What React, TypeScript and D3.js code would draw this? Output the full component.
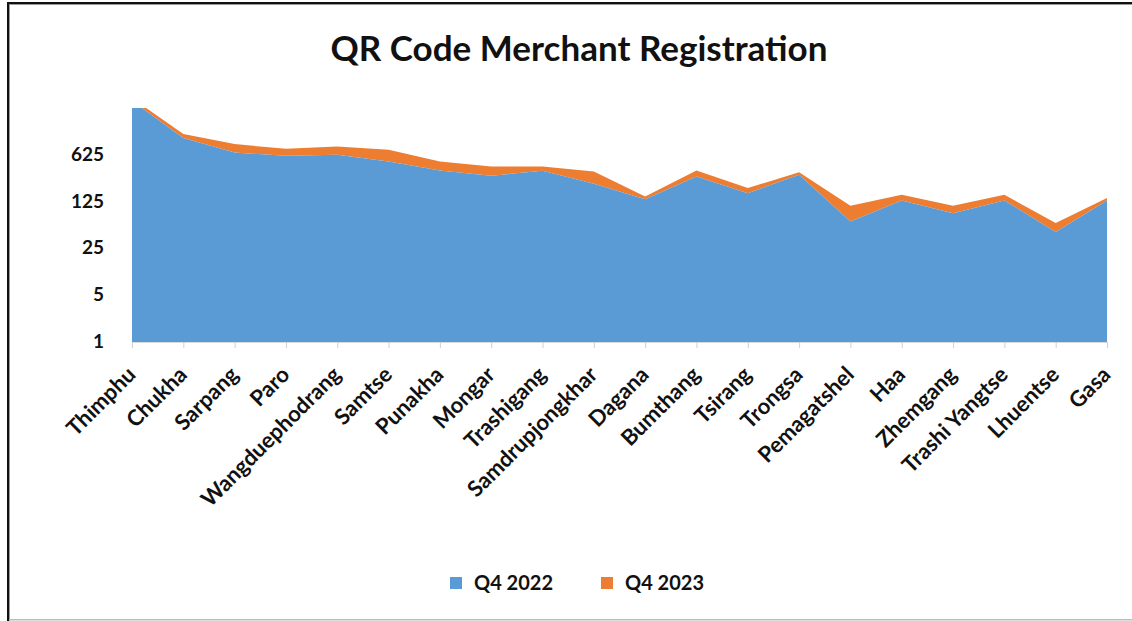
import React from "react";
import * as d3 from "d3";

const categories = [
  "Thimphu", "Chukha", "Sarpang", "Paro", "Wangduephodrang", "Samtse", "Punakha",
  "Mongar", "Trashigang", "Samdrupjongkhar", "Dagana", "Bumthang", "Tsirang",
  "Trongsa", "Pemagatshel", "Haa", "Zhemgang", "Trashi Yangtse", "Lhuentse", "Gasa",
];
const q4_2022 = [4000, 1110, 676, 604, 625, 497, 364, 304, 361, 230, 136, 296, 167, 314, 63, 130, 84, 130, 44, 130];
const q4_2023 = [400, 165, 227, 164, 208, 246, 133, 114, 57, 121, 13, 68, 32, 28, 45, 28, 24, 28, 16, 11];
const yTicks = [1, 5, 25, 125, 625];
const seriesNames = ["Q4 2022", "Q4 2023"];
const colors = ["#5B9BD5", "#ED7D31"];

const W = 1132, H = 621;
const X0 = 132, X1 = 1107, YB = 342, YT = 108;
const FONT = "Lato, 'Open Sans', sans-serif";

export default function App() {
  const x = d3.scalePoint<string>().domain(categories).range([X0, X1]);
  const y = d3.scaleLog().base(5).domain([1, 3125]).range([YB, YT]);
  const rows = categories.map((c, i) => ({ c, a: q4_2022[i], b: q4_2023[i] }));
  const stack = d3.stack<any>().keys(["a", "b"])(rows);
  const area = d3
    .area<any>()
    .x((d) => x(d.data.c) as number)
    .y0((d) => y(Math.max(1, d[0])))
    .y1((d) => y(Math.max(1, d[1])));

  return (
    <svg width={W} height={H} style={{ position: "absolute", left: 0, top: 0, background: "#fff" }}>
      <rect x={0} y={0} width={W} height={H} fill="#fff" />
      {/* frame */}
      <rect x={7} y={2} width={W - 7} height={2} fill="#111" />
      <rect x={9} y={4} width={W - 9} height={1} fill="#999" />
      <rect x={7} y={2} width={2} height={H - 2} fill="#111" />
      <rect x={9} y={4} width={1} height={H - 4} fill="#999" />
      <rect x={9} y={619} width={W - 9} height={1.5} fill="#bbb" />

      <text x={579} y={61} textAnchor="middle" fontFamily={FONT} fontWeight={700} fontSize={35} fill="#111">
        QR Code Merchant Registration
      </text>

      <defs>
        <clipPath id="plotclip">
          <rect x={X0} y={YT} width={X1 - X0} height={YB - YT} />
        </clipPath>
      </defs>
      <g clipPath="url(#plotclip)">
        {stack
          .slice()
          .reverse()
          .map((s, k) => {
            const idx = stack.length - 1 - k;
            return <path key={idx} d={area(s as any) as string} fill={colors[idx]} />;
          })}
      </g>

      {/* x axis */}
      <line x1={X0} x2={X1} y1={YB + 0.5} y2={YB + 0.5} stroke="#d9d9d9" />
      {categories.map((c) => (
        <line key={"t" + c} x1={(x(c) as number) + 0.5} x2={(x(c) as number) + 0.5} y1={YB} y2={YB + 6} stroke="#d0d0d0" />
      ))}
      {categories.map((c) => (
        <text
          key={c}
          transform={`translate(${(x(c) as number) + 5},${YB + 34}) rotate(-45)`}
          textAnchor="end"
          fontFamily={FONT}
          fontWeight={700}
          fontSize={22}
          fill="#111"
        >
          {c}
        </text>
      ))}

      {/* y ticks */}
      {yTicks.map((t) => (
        <text key={t} x={104} y={y(t) + 6} textAnchor="end" fontFamily={FONT} fontWeight={700} fontSize={19} fill="#111">
          {t}
        </text>
      ))}

      {/* legend */}
      {seriesNames.map((n, i) => {
        const lx = [450, 601][i];
        return (
          <g key={n}>
            <rect x={lx} y={577} width={12} height={12} fill={colors[i]} />
            <text x={lx + 24} y={590} fontFamily={FONT} fontWeight={700} fontSize={20} fill="#111">
              {n}
            </text>
          </g>
        );
      })}
    </svg>
  );
}
